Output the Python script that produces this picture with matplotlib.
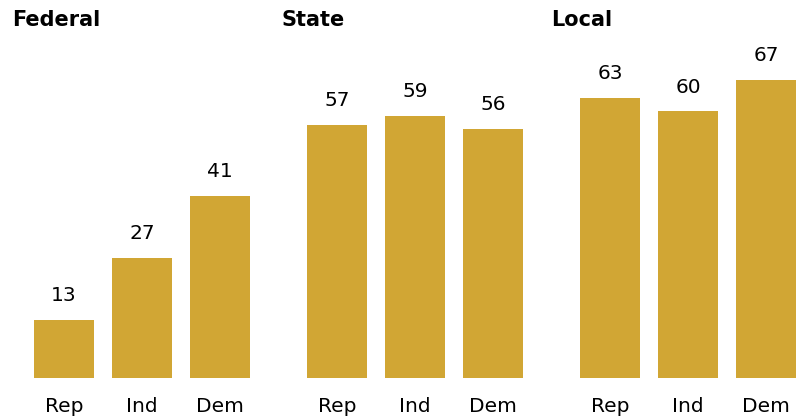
import matplotlib.pyplot as plt

groups = ['Federal', 'State', 'Local']
parties = ['Rep', 'Ind', 'Dem']
federal = [13, 27, 41]
state = [57, 59, 56]
local = [63, 60, 67]
values = [federal, state, local]

color = '#D1A634'

fig = plt.figure(figsize=(8.01, 4.17), dpi=100)
ax = fig.add_axes([0, 0, 1, 1])
ax.set_xlim(0, 801)
ax.set_ylim(-8.78, 85.1)
ax.axis('off')

for g, name in enumerate(groups):
    x0 = 273 * g
    ax.text(12 + 269.5 * g, 80.6, name, fontsize=15, fontweight='bold', ha='left', va='center')
    for i, p in enumerate(parties):
        xc = x0 + 64 + 78 * i
        v = values[g][i]
        ax.bar(xc, v, width=60, color=color, linewidth=0)
        ax.text(xc, v + 5.5, str(v), fontsize=14.5, ha='center', va='center')
        ax.text(xc, -6.5, p, fontsize=14.5, ha='center', va='center')

fig.savefig('out.png', dpi=100)
